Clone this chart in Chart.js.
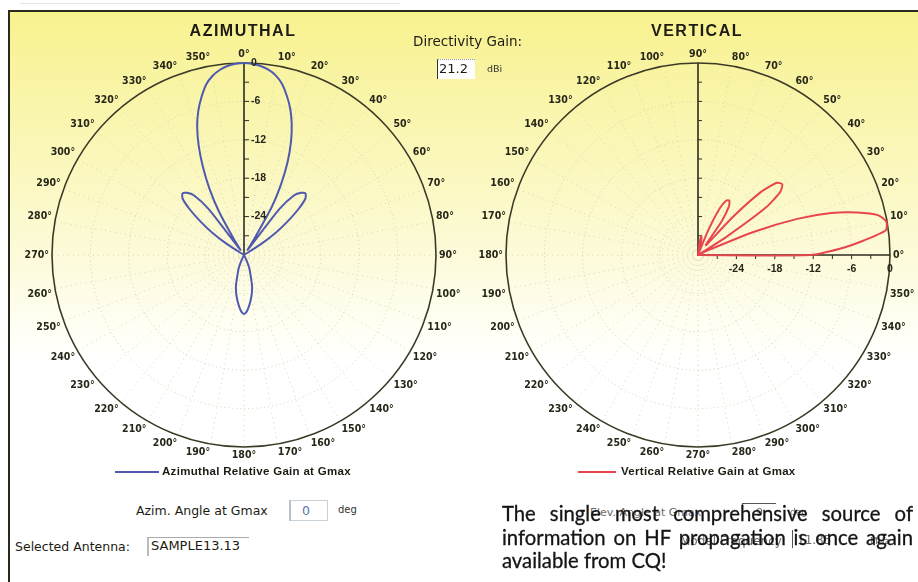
<!DOCTYPE html>
<html>
<head>
<meta charset="utf-8">
<title>Antenna pattern</title>
<script src="https://cdn.jsdelivr.net/npm/chart.js@4.4.1/dist/chart.umd.min.js"></script>
<style>
html, body { margin: 0; padding: 0; }
body { width: 918px; height: 582px; overflow: hidden; position: relative; background: #fff; font-family: "DejaVu Sans", sans-serif; color: #1c1c14; }
#panel { position: absolute; left: 8px; top: 10px; width: 912px; height: 574px; border-top: 2px solid #2a2a1c; border-left: 2px solid #2a2a1c;
  background: linear-gradient(to bottom, #f8f28e 0px, #f9f4a4 70px, #fbf8c2 170px, #fdfbdf 260px, #fffff6 320px, #ffffff 350px); }
#topline { position: absolute; left: 20px; top: 3px; width: 380px; height: 1px; background: #e4e4e4; }
canvas { position: absolute; }
.t { position: absolute; white-space: nowrap; }
.title { font-family: "Liberation Sans", Arial, sans-serif; font-weight: bold; font-size: 16px; letter-spacing: 1.5px; text-align: center; width: 240px; }
.box { position: absolute; background: #fff; box-sizing: border-box; }
.legline { position: absolute; height: 2px; }
.leg { font-family: "Liberation Sans", Arial, sans-serif; font-weight: bold; font-size: 11.5px; letter-spacing: 0.3px; }
.ad { position: absolute; left: 502px; width: 411px; font-family: Lato, "Open Sans", sans-serif; font-size: 20.3px; line-height: 23px; color: #151515; text-align: justify; text-align-last: justify; -webkit-text-stroke: 0.3px #151515; }
.ghost { font-size: 11px; color: #6a6a6a; }
</style>
</head>
<body>
<div id="topline"></div>
<div id="panel"></div>

<canvas id="azChart" width="460" height="460" style="left:14px; top:25px;"></canvas>
<canvas id="vertChart" width="460" height="460" style="left:468px; top:25px;"></canvas>

<div class="t title" style="left:123px; top:22px;">AZIMUTHAL</div>
<div class="t title" style="left:577px; top:22px;">VERTICAL</div>

<div class="t" style="left:413px; top:33px; font-size:13.5px;">Directivity Gain:</div>
<div class="box" style="left:437px; top:59px; width:38px; height:20px; border-left:1px solid #333; border-top:1px dotted #999;"></div>
<div class="t" style="left:439px; top:61px; font-size:13px;">21.2</div>
<div class="t" style="left:487px; top:63px; font-size:9.5px; color:#333;">dBi</div>

<div class="legline" style="left:115px; top:471px; width:44px; background:#4f5aae;"></div>
<div class="t leg" style="left:162px; top:465px;">Azimuthal Relative Gain at Gmax</div>
<div class="legline" style="left:578px; top:471px; width:38px; background:#e8464e;"></div>
<div class="t leg" style="left:621px; top:465px;">Vertical Relative Gain at Gmax</div>

<div class="t" style="left:136px; top:503px; font-size:12.5px;">Azim. Angle at Gmax</div>
<div class="box" style="left:289px; top:500px; width:39px; height:21px; border:1px solid #c8d0d8; border-left:2px solid #b8c0c8;"></div>
<div class="t" style="left:302px; top:503px; font-size:12.5px; color:#5a72a8;">0</div>
<div class="t" style="left:338px; top:504px; font-size:10px; color:#333;">deg</div>

<div class="t" style="left:15px; top:539px; font-size:12.5px;">Selected Antenna:</div>
<div class="box" style="left:147px; top:537px; width:102px; height:19px; border-top:1px solid #aaa; border-left:2px solid #bbb;"></div>
<div class="t" style="left:151px; top:538px; font-size:13px;">SAMPLE13.13</div>

<div class="t ghost" style="left:590px; top:506px;">Elev. Angle at Gmax</div>
<div class="box" style="left:742px; top:503px; width:34px; height:18px; border-top:1px solid #555; border-left:1px solid #555; background:transparent;"></div>
<div class="t ghost" style="left:756px; top:506px;">9</div>
<div class="t ghost" style="left:790px; top:507px; font-size:9px;">deg</div>
<div class="t ghost" style="left:680px; top:534px; font-size:12px;">Model Frequency</div>
<div class="box" style="left:792px; top:530px; width:40px; height:18px; border-left:1px solid #555; background:transparent;"></div>
<div class="t ghost" style="left:797px; top:533px; font-size:12px;">11.85</div>
<div class="t ghost" style="left:870px; top:536px; font-size:9px;">MHz</div>

<div class="ad" style="top:502px;">The single most comprehensive source of</div>
<div class="ad" style="top:526px;">information on HF propagation is once again</div>
<div class="ad" style="top:549px; text-align-last:left;">available from CQ!</div>

<script>
// angle of each sample, degrees (2.5 deg steps)
const patternAngles = [
  0, 2.5, 5, 7.5, 10, 12.5, 15, 17.5, 20, 22.5, 25, 27.5,
  30, 32.5, 35, 37.5, 40, 42.5, 45, 47.5, 50, 52.5, 55, 57.5,
  60, 62.5, 65, 67.5, 70, 72.5, 75, 77.5, 80, 82.5, 85, 87.5,
  90, 92.5, 95, 97.5, 100, 102.5, 105, 107.5, 110, 112.5, 115, 117.5,
  120, 122.5, 125, 127.5, 130, 132.5, 135, 137.5, 140, 142.5, 145, 147.5,
  150, 152.5, 155, 157.5, 160, 162.5, 165, 167.5, 170, 172.5, 175, 177.5,
  180, 182.5, 185, 187.5, 190, 192.5, 195, 197.5, 200, 202.5, 205, 207.5,
  210, 212.5, 215, 217.5, 220, 222.5, 225, 227.5, 230, 232.5, 235, 237.5,
  240, 242.5, 245, 247.5, 250, 252.5, 255, 257.5, 260, 262.5, 265, 267.5,
  270, 272.5, 275, 277.5, 280, 282.5, 285, 287.5, 290, 292.5, 295, 297.5,
  300, 302.5, 305, 307.5, 310, 312.5, 315, 317.5, 320, 322.5, 325, 327.5,
  330, 332.5, 335, 337.5, 340, 342.5, 345, 347.5, 350, 352.5, 355, 357.5
];

// azimuthal relative gain (dB), same order as patternAngles
const azimuthGain = [
  0, -0.1, -0.35, -0.8, -1.5, -2.6, -4.2, -6.0, -8.2, -10.8, -13.8, -17.3,
  -21.3, -27, -29, -21, -17.8, -16.8, -16.4, -17, -19, -21.5, -24, -27,
  -30, -30, -30, -30, -30, -30, -30, -30, -30, -30, -30, -30,
  -30, -30, -30, -30, -30, -30, -30, -30, -30, -30, -30, -30,
  -30, -30, -30, -30, -30, -30, -30, -30, -30, -30, -30, -30,
  -30, -30, -29, -28, -27.3, -26.5, -25.2, -24.2, -23.4, -22.6, -21.8, -21.1,
  -20.8, -21.1, -21.8, -22.6, -23.4, -24.2, -25.2, -26.5, -27.3, -28, -29, -30,
  -30, -30, -30, -30, -30, -30, -30, -30, -30, -30, -30, -30,
  -30, -30, -30, -30, -30, -30, -30, -30, -30, -30, -30, -30,
  -30, -30, -30, -30, -30, -30, -30, -30, -30, -30, -30, -30,
  -30, -27, -24, -21.5, -19, -17, -16.4, -16.8, -17.8, -21, -29, -27,
  -22.2, -18.3, -14.8, -11.5, -8.6, -6.3, -4.4, -2.7, -1.6, -0.85, -0.35, -0.1
];

// vertical relative gain (dB) by elevation angle, same order as patternAngles
const verticalGain = [
  -12.5, -7.8, -4.0, -0.4, -0.1, -1.2, -4.3, -8.2, -13.5, -20.5, -28, -30,
  -30, -25, -17, -13.8, -12.8, -13.3, -16, -22, -28, -28, -23.5, -21,
  -20.2, -20.4, -22, -26, -30, -30, -29, -27.5, -27, -28, -30, -30,
  -30, -30, -30, -30, -30, -30, -30, -30, -30, -30, -30, -30,
  -30, -30, -30, -30, -30, -30, -30, -30, -30, -30, -30, -30,
  -30, -30, -30, -30, -30, -30, -30, -30, -30, -30, -30, -30,
  -30, -30, -30, -30, -30, -30, -30, -30, -30, -30, -30, -30,
  -30, -30, -30, -30, -30, -30, -30, -30, -30, -30, -30, -30,
  -30, -30, -30, -30, -30, -30, -30, -30, -30, -30, -30, -30,
  -30, -30, -30, -30, -30, -30, -30, -30, -30, -30, -30, -30,
  -30, -30, -30, -30, -30, -30, -30, -30, -30, -30, -30, -30,
  -30, -30, -30, -30, -30, -30, -30, -30, -30, -30, -30, -30
];

// radial axis
const gainTickLabels = [-24, -18, -12, -6, 0];
const gainMinorTicks = [-27, -24, -21, -18, -15, -12, -9, -6, -3];

const labelFont = 'bold 10.5px "DejaVu Sans Condensed", "Liberation Sans Narrow", "Liberation Sans", sans-serif';
const textDark = '#262619';

// vertical plot runs counter-clockwise from the right, radar runs clockwise,
// so reorder the samples: 0, 357.5, 355 ... 2.5
const n = patternAngles.length;
const vertLabels = patternAngles.map((a, i) => patternAngles[(n - i) % n]);
const vertData = patternAngles.map((a, i) => verticalGain[(n - i) % n]);

// axis lines, small ticks and the text round the circle
function makeExtras(axes) {
    return {
        id: 'polarExtras',
        beforeDatasetsDraw(chart) {
            const s = chart.scales.r;
            const ctx = chart.ctx;
            ctx.save();
            ctx.strokeStyle = '#2d2d1f';
            axes.forEach(ax => {
                const end = s.getPointPositionForValue(ax.index, s.max);
                ctx.lineWidth = 1.6;
                ctx.beginPath();
                ctx.moveTo(s.xCenter, s.yCenter);
                ctx.lineTo(end.x, end.y);
                ctx.stroke();
                ctx.lineWidth = 1;
                gainMinorTicks.forEach(v => {
                    const p = s.getPointPositionForValue(ax.index, v);
                    ctx.beginPath();
                    ctx.moveTo(p.x, p.y);
                    ctx.lineTo(p.x + ax.tick[0], p.y + ax.tick[1]);
                    ctx.stroke();
                });
            });
            ctx.restore();
        },
        afterDraw(chart) {
            const s = chart.scales.r;
            const ctx = chart.ctx;
            ctx.save();
            ctx.fillStyle = textDark;
            ctx.font = labelFont;
            // degree labels every 10 deg
            chart.data.labels.forEach((lab, i) => {
                if (lab % 10 !== 0) return;
                const p = s.getPointPosition(i, s.drawingArea + 3);
                const a = Math.round(s.getIndexAngle(i) * 180 / Math.PI) % 360;
                ctx.textAlign = (a === 0 || a === 180) ? 'center' : (a < 180 ? 'left' : 'right');
                ctx.textBaseline = (a === 90 || a === 270) ? 'middle' : ((a < 90 || a > 270) ? 'bottom' : 'top');
                ctx.fillText(lab + '\u00b0', p.x, p.y);
            });
            // gain labels on the first axis
            const ax = axes[0];
            ctx.font = 'bold 10.5px "Liberation Sans", sans-serif';
            ctx.textAlign = ax.align;
            ctx.textBaseline = 'middle';
            gainTickLabels.forEach(v => {
                const p = s.getPointPositionForValue(ax.index, v);
                ctx.fillText(String(v), p.x + ax.label[0], p.y + ax.label[1]);
            });
            ctx.restore();
        }
    };
}

function radarOptions(startAngle) {
    return {
        responsive: false,
        animation: false,
        layout: { padding: 38 },
        plugins: { legend: { display: false }, tooltip: { enabled: false } },
        elements: { point: { radius: 0 } },
        scales: {
            r: {
                min: -30,
                max: 0,
                startAngle: startAngle,
                ticks: { display: false, stepSize: 6 },
                pointLabels: { display: false },
                grid: {
                    circular: true,
                    color: ctx => ctx.tick.value === 0 ? '#3a3a26' : '#d2d2ae',
                    lineWidth: ctx => ctx.tick.value === 0 ? 1.6 : 1
                },
                border: { dash: ctx => ctx.tick.value === 0 ? [] : [1, 3] },
                angleLines: {
                    color: ctx => ctx.label % 10 === 0 ? '#d6d6b2' : 'rgba(0,0,0,0)',
                    lineWidth: 1,
                    borderDash: [1, 4]
                }
            }
        }
    };
}

// Azimuthal chart
new Chart(document.getElementById('azChart'), {
    type: 'radar',
    data: {
        labels: patternAngles,
        datasets: [{
            label: 'Azimuthal Relative Gain at Gmax',
            data: azimuthGain,
            borderColor: '#4f5aae',
            borderWidth: 2,
            fill: false,
            tension: 0.2
        }]
    },
    options: radarOptions(0),
    plugins: [makeExtras([{ index: 0, tick: [5, 0], label: [7, 0], align: 'left' }])]
});

// Vertical chart
new Chart(document.getElementById('vertChart'), {
    type: 'radar',
    data: {
        labels: vertLabels,
        datasets: [{
            label: 'Vertical Relative Gain at Gmax',
            data: vertData,
            borderColor: '#e8464e',
            borderWidth: 2,
            fill: false,
            tension: 0.2
        }]
    },
    options: radarOptions(90),
    plugins: [makeExtras([
        { index: 0, tick: [0, 4], label: [0, 14], align: 'center' },
        { index: vertLabels.indexOf(90), tick: [4, 0] }
    ])]
});
</script>
</body>
</html>
